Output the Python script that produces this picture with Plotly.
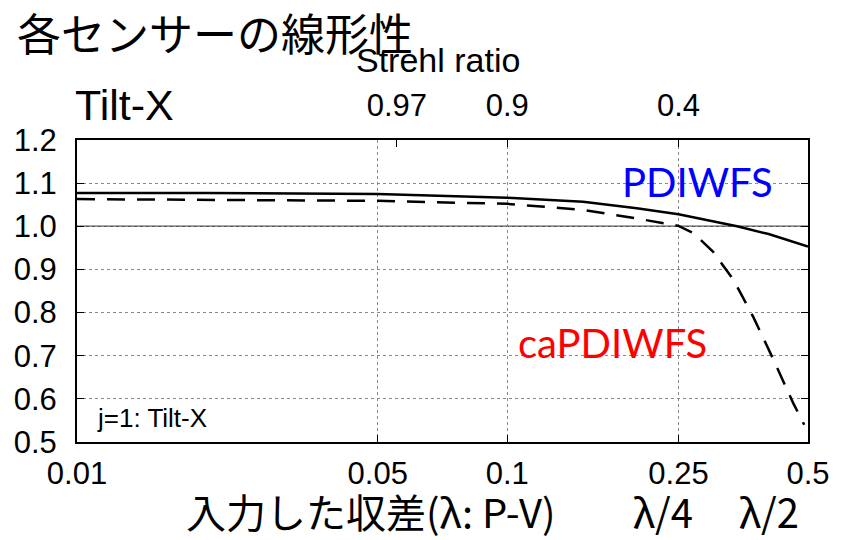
import plotly.graph_objects as go
import math

# ---- data ----
pd_x = [0.01, 0.02, 0.05, 0.1, 0.15, 0.2, 0.25, 0.342, 0.405, 0.5]
pd_y = [1.077, 1.077, 1.075, 1.066, 1.057, 1.042, 1.028, 1.000, 0.982, 0.953]

ca_x = [0.01, 0.02, 0.05, 0.1, 0.15, 0.2, 0.25, 0.271, 0.301, 0.336, 0.373, 0.416, 0.462, 0.49]
ca_y = [1.063, 1.062, 1.059, 1.052, 1.038, 1.018, 1.001, 0.984, 0.941, 0.875, 0.790, 0.690, 0.590, 0.540]

x_ticks = [0.01, 0.05, 0.1, 0.25, 0.5]
x_ticktext = ["0.01", "0.05", "0.1", "0.25", "0.5"]

strehl_pos = [0.0554, 0.1, 0.25]
strehl_text = ["0.97", "0.9", "0.4"]

y_ticks = [0.5, 0.6, 0.7, 0.8, 0.9, 1.0, 1.1, 1.2]

FONT = "Liberation Sans, Arial, sans-serif"
CJK = "Noto Sans CJK JP, sans-serif"

fig = go.Figure()
fig.add_trace(go.Scatter(x=pd_x, y=pd_y, mode="lines", name="PDIWFS",
                         line=dict(color="black", width=2.5), showlegend=False))
fig.add_trace(go.Scatter(x=ca_x, y=ca_y, mode="lines", name="caPDIWFS",
                         line=dict(color="black", width=2.5, dash="18px,12px"), showlegend=False))
fig.add_trace(go.Scatter(x=strehl_pos, y=[None] * len(strehl_pos), xaxis="x2", mode="lines",
                         showlegend=False, hoverinfo="skip"))

fig.add_shape(type="line", xref="x domain", yref="y", x0=0, x1=1, y0=1.0, y1=1.0,
              line=dict(color="#555555", width=1.5), layer="below")

xr = [math.log10(0.01), math.log10(0.5)]
fig.update_layout(
    width=846, height=540, autosize=False,
    margin=dict(l=77, r=38, t=140, b=98),
    plot_bgcolor="white", paper_bgcolor="white",
    font=dict(family=FONT, size=30, color="black"),
    xaxis=dict(type="log", range=xr, tickvals=x_ticks, ticktext=x_ticktext,
               ticks="inside", ticklen=7, tickwidth=1, tickcolor="black",
               showline=True, linecolor="black", linewidth=2, mirror=True,
               showgrid=True, gridcolor="#888888", griddash="dot", gridwidth=1,
               tickfont=dict(family=FONT, size=31), ticklabelstandoff=3,
               zeroline=False),
    xaxis2=dict(type="log", range=xr, overlaying="x", side="top",
                tickvals=strehl_pos, ticktext=strehl_text,
                ticks="inside", ticklen=7, tickwidth=1, tickcolor="black",
                showline=False, showgrid=False, zeroline=False,
                tickfont=dict(family=FONT, size=31), ticklabelstandoff=17),
    yaxis=dict(range=[0.5, 1.2], tickvals=y_ticks, tickformat=".1f",
               ticks="inside", ticklen=7, tickwidth=1, tickcolor="black",
               showline=True, linecolor="black", linewidth=2, mirror="ticks",
               showgrid=True, gridcolor="#888888", griddash="dot", gridwidth=1,
               tickfont=dict(family=FONT, size=31), ticklabelstandoff=12,
               zeroline=False),
)

def ann(text, px, py, size, family, color="black", xanchor="center"):
    fig.add_annotation(text=text, xref="paper", yref="paper",
                       x=(px - 77) / 731, y=(442 - py) / 302,
                       xanchor=xanchor, yanchor="middle", showarrow=False,
                       font=dict(family=family, size=size, color=color))

ann("各センサーの線形性", 15, 32, 44, CJK, xanchor="left")
ann("Strehl ratio", 438, 60, 34, FONT)
ann("Tilt-X", 73, 105, 43, FONT, xanchor="left")
ann("j=1: Tilt-X", 95, 418, 26, FONT, xanchor="left")
ann("PDIWFS", 697, 182, 40, "Lato, sans-serif", color="#0000ff")
ann("caPDIWFS", 612, 343, 40, "Lato, sans-serif", color="#ff0000")
ann("入力した収差(λ: P-V)", 370, 511, 40, CJK)
ann("λ/4", 663, 511, 40, CJK)
ann("λ/2", 769, 511, 40, CJK)

fig.write_html("out.html")
